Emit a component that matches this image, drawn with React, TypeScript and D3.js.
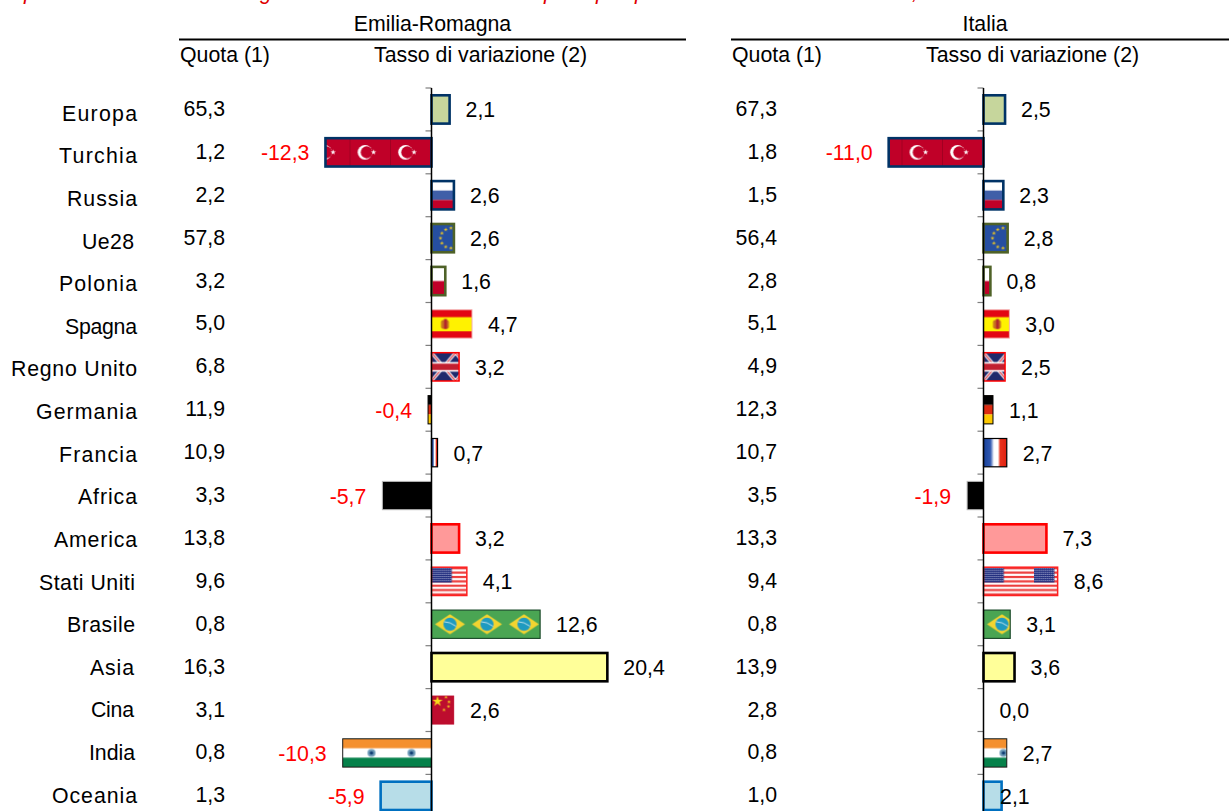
import React from "react";
import * as d3 from "d3";

const categories = ["Europa","Turchia","Russia","Ue28","Polonia","Spagna","Regno Unito","Germania","Francia","Africa","America","Stati Uniti","Brasile","Asia","Cina","India","Oceania"];
const quotaER = ["65,3","1,2","2,2","57,8","3,2","5,0","6,8","11,9","10,9","3,3","13,8","9,6","0,8","16,3","3,1","0,8","1,3"];
const varER = [2.1,-12.3,2.6,2.6,1.6,4.7,3.2,-0.4,0.7,-5.7,3.2,4.1,12.6,20.4,2.6,-10.3,-5.9];
const quotaIT = ["67,3","1,8","1,5","56,4","2,8","5,1","4,9","12,3","10,7","3,5","13,3","9,4","0,8","13,9","2,8","0,8","1,0"];
const varIT = [2.5,-11.0,2.3,2.8,0.8,3.0,2.5,1.1,2.7,-1.9,7.3,8.6,3.1,3.6,0.0,2.7,2.1];
const titleFragments = ["p","g","p","p","p",","];

// ---- layout and style, separate from the data ----
const W = 1229, H = 811;
const FONT = "'Liberation Sans', Arial, sans-serif";
const FS = 21.3;
const labelExtent: Record<string,[number,number]> = {
  Europa:[62,137],Turchia:[59,137],Russia:[67,137],Ue28:[82,134],Polonia:[59,137],Spagna:[65,137],
  "Regno Unito":[11,137],Germania:[36,137],Francia:[59,137],Africa:[78,137],America:[54,137],
  "Stati Uniti":[39,135],Brasile:[67,135],Asia:[90,134],Cina:[91,134],India:[89,135],Oceania:[52,137],
};
const titleX = [24,260,544,596,635,912];

const barStyle: Record<string,{fill?:string;stroke:string;sw:number;tile?:number}> = {
  Europa:{fill:"#c6d69c",stroke:"#003366",sw:2.6},
  Turchia:{stroke:"#003366",sw:2.6,tile:40.5},
  Russia:{stroke:"#003366",sw:2.6,tile:40},
  Ue28:{stroke:"#4f6228",sw:2.6,tile:40},
  Polonia:{stroke:"#4f6228",sw:2.6,tile:40},
  Spagna:{stroke:"#f4b0b0",sw:1,tile:40},
  "Regno Unito":{stroke:"#ff0000",sw:1.5,tile:24},
  Germania:{stroke:"#000",sw:1,tile:40},
  Francia:{stroke:"#000",sw:1.2},
  Africa:{fill:"#000",stroke:"#b8b8b8",sw:1},
  America:{fill:"#ff9999",stroke:"#ff0000",sw:2.6},
  "Stati Uniti":{stroke:"#ff2020",sw:1.5,tile:50.5},
  Brasile:{stroke:"#1f4d2d",sw:1.2,tile:37},
  Asia:{fill:"#ffff99",stroke:"#000",sw:2.6},
  Cina:{stroke:"#bd0d2e",sw:0.5,tile:40},
  India:{stroke:"#1a1a1a",sw:1,tile:40},
  Oceania:{fill:"#b7dde8",stroke:"#0070c0",sw:2.6},
};

const starPath = (size:number) => d3.symbol(d3.symbolStar, size)() as string;

function Flag({name,w,h}:{name:string;w:number;h:number}) {
  const cx = w/2, cy = h/2;
  switch(name){
    case "Turchia": return <g>
      <rect width={w} height={h} fill="#c00028"/>
      <rect x={w-0.6} width={0.6} height={h} fill="#8f001c"/>
      <circle cx={w*0.36} cy={cy} r={7.4} fill="#fff"/>
      <circle cx={w*0.40} cy={cy} r={6} fill="#c00028"/>
      <path d={starPath(9)} transform={`translate(${w*0.57},${cy})`} fill="#fff"/>
    </g>;
    case "Russia": return <g>
      <rect width={w} height={h} fill="#fff"/>
      <rect y={h/3} width={w} height={h/3} fill="#3f5fa8"/>
      <rect y={h*2/3} width={w} height={h/3} fill="#c00028"/>
    </g>;
    case "Ue28": return <g>
      <rect width={w} height={h} fill="#264fa0"/>
      {d3.range(12).map(i=>{
        const a = i*Math.PI/6;
        return <path key={i} d={starPath(5)} fill="#f2c81e" transform={`translate(${19.5+10.5*Math.cos(a)},${cy+10*Math.sin(a)})`}/>;
      })}
    </g>;
    case "Polonia": return <g>
      <rect width={w} height={h} fill="#fff"/>
      <rect y={cy} width={w} height={h/2} fill="#c00028"/>
    </g>;
    case "Spagna": return <g>
      <rect width={w} height={h} fill="#e30613"/>
      <rect y={h*0.26} width={w} height={h*0.5} fill="#fff200"/>
      <rect x={9.5} y={cy-4} width={8} height={9} rx={2} fill="#c8761e"/>
      <rect x={12.5} y={cy-5} width={3} height={10} fill="#b3262a"/>
    </g>;
    case "Regno Unito": return <g>
      <rect width={w} height={h} fill="#1f2a6c"/>
      <path d={`M0,0L${w},${h}M${w},0L0,${h}`} stroke="#fff" strokeWidth={3.2}/>
      <path d={`M0,0L${w},${h}M${w},0L0,${h}`} stroke="#d0202e" strokeWidth={1.1}/>
      <rect y={cy-4.8} width={w} height={9.6} fill="#fff"/>
      <rect y={cy-3.2} width={w} height={6.4} fill="#c21f30"/>
    </g>;
    case "Germania": return <g>
      <rect width={w} height={h/3} fill="#000"/>
      <rect y={h/3} width={w} height={h/3} fill="#dc2a10"/>
      <rect y={h*2/3} width={w} height={h/3} fill="#fdc800"/>
    </g>;
    case "Francia": return <g>
      <defs><linearGradient id={`fr-${Math.round(w)}`}>
        <stop offset="0" stopColor="#17409a"/><stop offset="0.3" stopColor="#3058b0"/>
        <stop offset="0.45" stopColor="#fff"/><stop offset="0.62" stopColor="#fff"/>
        <stop offset="0.72" stopColor="#e8321c"/><stop offset="1" stopColor="#e02010"/>
      </linearGradient></defs>
      <rect width={w} height={h} fill={`url(#fr-${Math.round(w)})`}/>
    </g>;
    case "Stati Uniti": {
      const sh = h/13, cw = w*0.402, ch = sh*7;
      return <g>
        <rect width={w} height={h} fill="#fff"/>
        {d3.range(0,13,2).map(i=><rect key={i} y={i*sh} width={w} height={sh} fill="#ec3c3c"/>)}
        <rect width={cw} height={ch} fill="#232f80"/>
        {d3.range(7).flatMap(r=>d3.range(10).map(c=>
          <circle key={`${r}-${c}`} cx={1+c*2} cy={1.2+r*2} r={0.5} fill="#d8dcf0"/>))}
      </g>;
    }
    case "Brasile": return <g>
      <rect width={w} height={h} fill="#4aa553"/>
      <path d={`M${cx-15},${cy}L${cx},${cy-10}L${cx+15},${cy}L${cx},${cy+10}Z`} fill="#f2d430"/>
      <circle cx={cx} cy={cy} r={6.6} fill="#1f9ac0"/>
      <path d={`M${cx-6},${cy-2.5}Q${cx},${cy-2.5} ${cx+6},${cy+2}`} fill="none" stroke="#e6f3f5" strokeWidth={0.8}/>
    </g>;
    case "Cina": return <g>
      <rect width={w} height={h} fill="#bd0d2e"/>
      <path d={starPath(34)} transform="translate(6,5.5)" fill="#f8dc1a"/>
      {([[14.5,1.2],[17.5,6],[17,10.5],[12.5,14]] as [number,number][]).map(([x,y],i)=>
        <path key={i} d={starPath(4)} transform={`translate(${x},${y})`} fill="#f8dc1a"/>)}
    </g>;
    case "India": return <g>
      <rect width={w} height={h} fill="#fff"/>
      <rect width={w} height={h/3} fill="#f4902f"/>
      <rect y={h*2/3} width={w} height={h/3} fill="#06814a"/>
      <circle cx={cx} cy={cy} r={4} fill="#6f9cb8"/>
      <circle cx={cx} cy={cy} r={1.8} fill="#123f74"/>
    </g>;
  }
  return null;
}

function Panel({id,zero,values,quotas,y,step,inset,scaleK,quotaRight,labelShift}:any){
  const x = d3.scaleLinear().domain([0,1]).range([zero,zero+scaleK]);
  const bw = y.bandwidth();
  return <g>
    <defs>
      {categories.map((c:string,i:number)=>{
        const st = barStyle[c];
        if(c==="Francia"){
          const w = Math.abs(x(values[i])-zero);
          return <pattern key={c} id={`${id}-${i}`} patternUnits="userSpaceOnUse" x={zero} y={y(c)} width={w} height={bw}>
            <Flag name={c} w={w} h={bw}/>
          </pattern>;
        }
        if(!st.tile) return null;
        return <pattern key={c} id={`${id}-${i}`} patternUnits="userSpaceOnUse" x={zero} y={y(c)} width={st.tile} height={bw}>
          <Flag name={c} w={st.tile} h={bw}/>
        </pattern>;
      })}
    </defs>
    {categories.map((c:string,i:number)=>{
      const v = values[i], st = barStyle[c];
      const band = y(c)-inset;
      const center = band+step/2;
      const x0 = Math.min(x(v),zero), w = Math.abs(x(v)-zero);
      const lblX = v>=0 ? x(v)+16+(labelShift[c]||0) : x(v)-16;
      return <g key={c}>
        <line x1={zero-6} x2={zero} y1={band} y2={band} stroke="#7f7f7f" strokeWidth={1.2}/>
        {w>0 && <rect x={x0} y={y(c)} width={w} height={bw}
          fill={st.fill||`url(#${id}-${i})`} stroke={st.stroke} strokeWidth={st.sw}/>}
        <text x={quotaRight} y={center+6.5} textAnchor="end" fontSize={FS} fontFamily={FONT} fill="#000">{quotas[i]}</text>
        <text x={lblX} y={center+8} textAnchor={v>=0?"start":"end"} fontSize={FS} fontFamily={FONT}
          fill={v<0?"#ff0000":"#000"}>{d3.format(".1f")(v).replace(".",",").replace("−","-")}</text>
      </g>;
    })}
    <line x1={zero} x2={zero} y1={y.range()[0]} y2={H} stroke="#000" strokeWidth={1.5}/>
  </g>;
}

export default function App(){
  const y = d3.scaleBand<string>().domain(categories).range([88,88+17*42.9]).paddingInner(0.34).paddingOuter(0.17);
  const step = y.step();
  const inset = y(categories[0])!-88;
  const k = 8.62;
  const txt = {fontSize:FS,fontFamily:FONT,fill:"#000"};
  return <svg width={W} height={H} viewBox={`0 0 ${W} ${H}`} style={{position:"absolute",left:0,top:0,display:"block",background:"#fff"}}>
    {titleFragments.map((t,i)=><text key={i} x={titleX[i]} y={-1.2} fontSize={FS} fontStyle="italic" fontFamily={FONT} fill="#e00000">{t}</text>)}

    <text x={432.5} y={30.5} textAnchor="middle" {...txt}>Emilia-Romagna</text>
    <text x={985} y={30.5} textAnchor="middle" {...txt}>Italia</text>
    <line x1={179} x2={686} y1={39.5} y2={39.5} stroke="#000" strokeWidth={2}/>
    <line x1={731} x2={W} y1={39.5} y2={39.5} stroke="#000" strokeWidth={2}/>
    <text x={180} y={61.5} {...txt}>Quota (1)</text>
    <text x={374} y={61.5} {...txt}>Tasso di variazione (2)</text>
    <text x={732} y={61.5} {...txt}>Quota (1)</text>
    <text x={926} y={61.5} {...txt}>Tasso di variazione (2)</text>

    {categories.map((c,i)=>{
      const [a,b] = labelExtent[c];
      return <text key={c} x={a} y={120.7+i*42.62} textLength={b-a} lengthAdjust="spacing" {...txt}>{c}</text>;
    })}

    <Panel id="er" zero={431.5} values={varER} quotas={quotaER} y={y} step={step} inset={inset} scaleK={k} quotaRight={225} labelShift={{}}/>
    <Panel id="it" zero={983.5} values={varIT} quotas={quotaIT} y={y} step={step} inset={inset} scaleK={k} quotaRight={777} labelShift={{Oceania:-17.5}}/>
  </svg>;
}
